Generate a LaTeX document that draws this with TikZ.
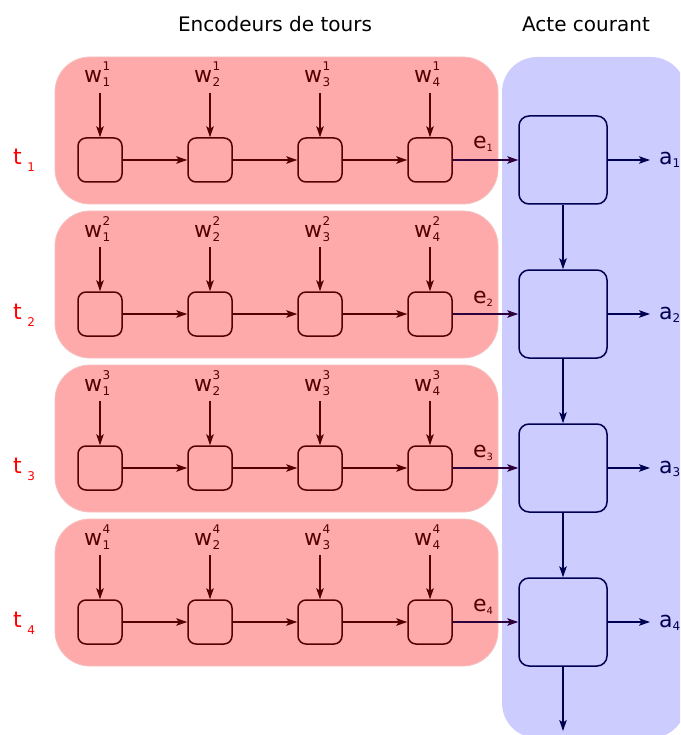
\documentclass[tikz,border=0pt]{standalone}
\usepackage{fontspec}
\setmainfont{DejaVu Sans}
\usetikzlibrary{arrows.meta}
\definecolor{redfill}{RGB}{255,170,170}
\definecolor{rededge}{RGB}{245,190,190}
\definecolor{bluefill}{RGB}{204,204,255}
\definecolor{dred}{RGB}{85,0,0}
\definecolor{dblue}{RGB}{0,0,80}
\definecolor{dpurp}{RGB}{45,0,60}
\definecolor{tred}{RGB}{255,0,0}
\newcommand{\smallfs}{\fontsize{12}{12}\selectfont}
\newcommand{\wlab}[2]{w\kern0.5pt\rlap{\raisebox{12pt}{\smallfs #1}}\raisebox{-4pt}{\smallfs #2}}
\begin{document}
\begin{tikzpicture}[x=1pt,y=-1pt,
  arr/.style={-{Stealth[length=11pt,width=7.5pt,inset=2.5pt]}, line width=1.4pt},
  sbox/.style={draw=dred, line width=1.5pt, rounded corners=8pt, minimum size=44pt, inner sep=0pt},
  bbox/.style={draw=dblue, line width=1.5pt, rounded corners=10pt, minimum size=88pt, inner sep=0pt},
  lbl/.style={inner sep=0pt, font=\fontsize{22}{22}\selectfont},
  ttl/.style={inner sep=0pt, font=\fontsize{20}{20}\selectfont, anchor=base}]
\useasboundingbox (0,0) rectangle (680,735);
\begin{scope}
\clip (0,0) rectangle (680,735);
\fill[bluefill, rounded corners=35pt] (502,57) rectangle (686,738);
\end{scope}
\node[ttl] (title1) at (275,32) {Encodeurs de tours};
\node[ttl] (title2) at (586,32) {Acte courant};
\foreach \r/\y in {1/160,2/314,3/468,4/622} {
  \fill[redfill, rounded corners=35pt] (55,\y-103) rectangle (498,\y+44);
  \draw[rededge, line width=0.8pt, rounded corners=35pt] (55,\y-103) rectangle (498,\y+44);
  \foreach \c/\x in {1/100,2/210,3/320,4/430} {
    \node[sbox] (s\r\c) at (\x,\y) {};
    \node[lbl, anchor=base west, text=dred] (w\r\c) at (\x-16,\y-77) {\wlab{\r}{\c}};
    \coordinate (wt\r\c) at (\x,\y-67);
    \draw[arr, dred] (wt\r\c) -- (s\r\c.north);
  }
  \foreach \c/\n in {1/2,2/3,3/4} {
    \draw[arr, dred] (s\r\c.east) -- (s\r\n.west);
  }
  \node[bbox] (b\r) at (563,\y) {};
  \node[lbl, anchor=base west, text=tred] (t\r) at (13,\y+5) {t\kern5.5pt\raisebox{-7pt}{\smallfs\r}};
  \node[lbl, anchor=base west, text=dred] (e\r) at (473,\y-11) {e\raisebox{-3pt}{\fontsize{10}{10}\selectfont\r}};
  \draw[arr, dpurp] (s\r4.east) -- (b\r.west);
  \coordinate (ae\r) at (650,\y);
  \draw[arr, dblue] (b\r.east) -- (ae\r);
  \node[lbl, anchor=base west, text=dblue] (a\r) at (659,\y+5) {a\raisebox{-3pt}{\smallfs\r}};
}
\foreach \r/\n in {1/2,2/3,3/4} {
  \draw[arr, dblue] (b\r.south) -- (b\n.north);
}
\coordinate (bend) at (563,731);
\draw[arr, dblue] (b4.south) -- (bend);
\end{tikzpicture}
\end{document}
